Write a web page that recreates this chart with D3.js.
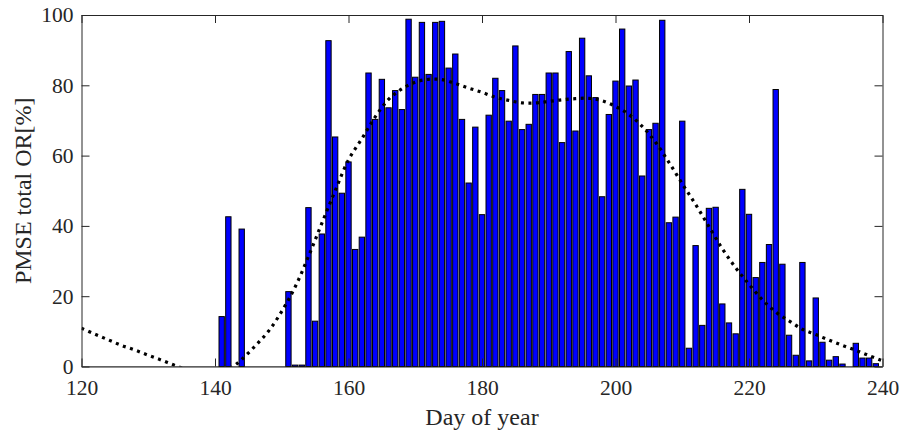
<!DOCTYPE html>
<html>
<head>
<meta charset="utf-8">
<script src="https://cdn.jsdelivr.net/npm/d3@7"></script>
<style>
  body { margin: 0; background: #fff; }
  svg { display: block; }
</style>
</head>
<body>
<svg id="chart" width="903" height="434"></svg>
<script>
// ---- data ----
const barStartDay = 141;
const barValues = [
  14.2, 42.6, 0, 39.1, 0, 0, 0, 0, 0, 0,          // 141-150
  21.3, 0.4, 0.4, 45.2, 12.9, 37.7, 92.7, 65.3, 49.3, 58.2, // 151-160
  33.3, 36.8, 83.5, 70.3, 81.7, 73.6, 78.5, 73.1, 98.8, 82.3, // 161-170
  97.9, 83.1, 97.9, 98.2, 84.9, 88.9, 70.3, 52.2, 68.1, 43.2, // 171-180
  71.5, 82.0, 78.5, 69.8, 91.2, 67.4, 68.9, 77.4, 77.4, 83.5, // 181-190
  83.5, 63.7, 89.6, 67.0, 93.4, 82.7, 76.5, 48.3, 71.7, 81.2, // 191-200
  96.0, 79.8, 81.5, 54.2, 67.4, 69.2, 98.5, 40.9, 42.5, 69.8, // 201-210
  5.2, 34.4, 11.7, 45.0, 45.3, 17.8, 12.4, 9.3, 50.4, 43.3,   // 211-220
  25.3, 29.6, 34.7, 78.8, 29.1, 8.9, 3.2, 29.6, 1.6, 19.5,    // 221-230
  6.9, 1.8, 2.8, 0.7, 0, 6.6, 2.4, 2.4, 0.8                   // 231-239
];
const barDays = barValues.map((v, i) => barStartDay + i);

const fitDays = [120,122,124,126,128,130,132,134,136,138,140,142,143,144,146,148,150,152,154,156,158,160,162,164,166,168,170,172,174,176,178,180,182,184,186,188,190,192,194,196,198,200,202,204,206,208,210,212,214,216,218,220,222,224,226,228,230,232,234,236,238,240];
const fitValues = [10.9,9.2,7.6,6.0,4.7,3.2,1.8,0.3,-1.0,-1.8,-1.9,-0.8,0.4,2.0,5.8,10.0,15.7,22.6,31.3,40.7,50.0,58.8,64.8,71.0,76.0,79.0,80.9,81.7,81.6,80.5,79.2,78.0,76.6,75.7,75.0,75.0,75.4,75.9,76.2,76.3,75.6,74.0,71.7,68.3,63.8,58.1,52.0,46.1,39.8,33.5,28.1,23.4,19.0,15.5,13.0,10.6,9.1,7.5,6.0,4.6,3.1,1.6];

const xTicks = [120, 140, 160, 180, 200, 220, 240];
const yTicks = [0, 20, 40, 60, 80, 100];
const xLabel = "Day of year";
const yLabel = "PMSE total OR[%]";

// ---- layout ----
const svg = d3.select("#chart");
const L = 81.5, R = 882.5, T = 15, B = 366.5;
const ink = "#262626";

const x = d3.scaleLinear().domain([120, 240]).range([L, R]);
const y = d3.scaleLinear().domain([0, 100]).range([B, T]);

svg.append("defs").append("clipPath").attr("id", "clip")
  .append("rect").attr("x", L).attr("y", T).attr("width", R - L).attr("height", B - T);

// baseline
svg.append("line")
  .attr("x1", L).attr("x2", R).attr("y1", y(0)).attr("y2", y(0))
  .attr("stroke", "#999").attr("stroke-width", 1);

// bars
const bw = (x(1) - x(0)) * 0.8;
svg.append("g").selectAll("rect")
  .data(barDays.map((d, i) => ({ d, v: barValues[i] })).filter(o => o.v > 0))
  .join("rect")
  .attr("x", o => x(o.d) - bw / 2)
  .attr("y", o => y(o.v))
  .attr("width", bw)
  .attr("height", o => y(0) - y(o.v))
  .attr("fill", "#0000ff")
  .attr("stroke", "#000")
  .attr("stroke-width", 1);

// fitted dotted curve
const line = d3.line()
  .x((d, i) => x(fitDays[i]))
  .y(d => y(d))
  .curve(d3.curveCatmullRom);
svg.append("path")
  .attr("clip-path", "url(#clip)")
  .attr("d", line(fitValues))
  .attr("fill", "none")
  .attr("stroke", "#000")
  .attr("stroke-width", 3.2)
  .attr("stroke-dasharray", "3,4.5");

// axes
const font = "'Liberation Serif', 'Times New Roman', serif";
function styleAxis(g, showText) {
  g.select(".domain").attr("stroke", ink).attr("stroke-width", 1);
  g.selectAll(".tick line").attr("stroke", ink).attr("stroke-width", 1);
  g.selectAll(".tick text")
    .attr("fill", ink)
    .style("font-family", font)
    .style("font-size", "21.5px");
  if (!showText) g.selectAll(".tick text").remove();
}

svg.append("g").attr("transform", `translate(0,${B})`)
  .call(d3.axisBottom(x).tickValues(xTicks).tickSizeInner(-8).tickSizeOuter(0).tickPadding(13).tickFormat(d3.format("d")))
  .call(g => styleAxis(g, true));
svg.append("g").attr("transform", `translate(0,${T})`)
  .call(d3.axisTop(x).tickValues(xTicks).tickSizeInner(-8).tickSizeOuter(0))
  .call(g => styleAxis(g, false));
svg.append("g").attr("transform", `translate(${L},0)`)
  .call(d3.axisLeft(y).tickValues(yTicks).tickSizeInner(-8).tickSizeOuter(0).tickPadding(8).tickFormat(d3.format("d")))
  .call(g => styleAxis(g, true));
svg.append("g").attr("transform", `translate(${R},0)`)
  .call(d3.axisRight(y).tickValues(yTicks).tickSizeInner(-8).tickSizeOuter(0))
  .call(g => styleAxis(g, false));

// labels
svg.append("text")
  .attr("x", (L + R) / 2).attr("y", 425)
  .attr("text-anchor", "middle")
  .attr("fill", ink)
  .style("font-family", font).style("font-size", "24px")
  .text(xLabel);
svg.append("text")
  .attr("transform", `translate(31,${(T + B) / 2}) rotate(-90)`)
  .attr("text-anchor", "middle")
  .attr("fill", ink)
  .style("font-family", font).style("font-size", "24px")
  .text(yLabel);
</script>
</body>
</html>
